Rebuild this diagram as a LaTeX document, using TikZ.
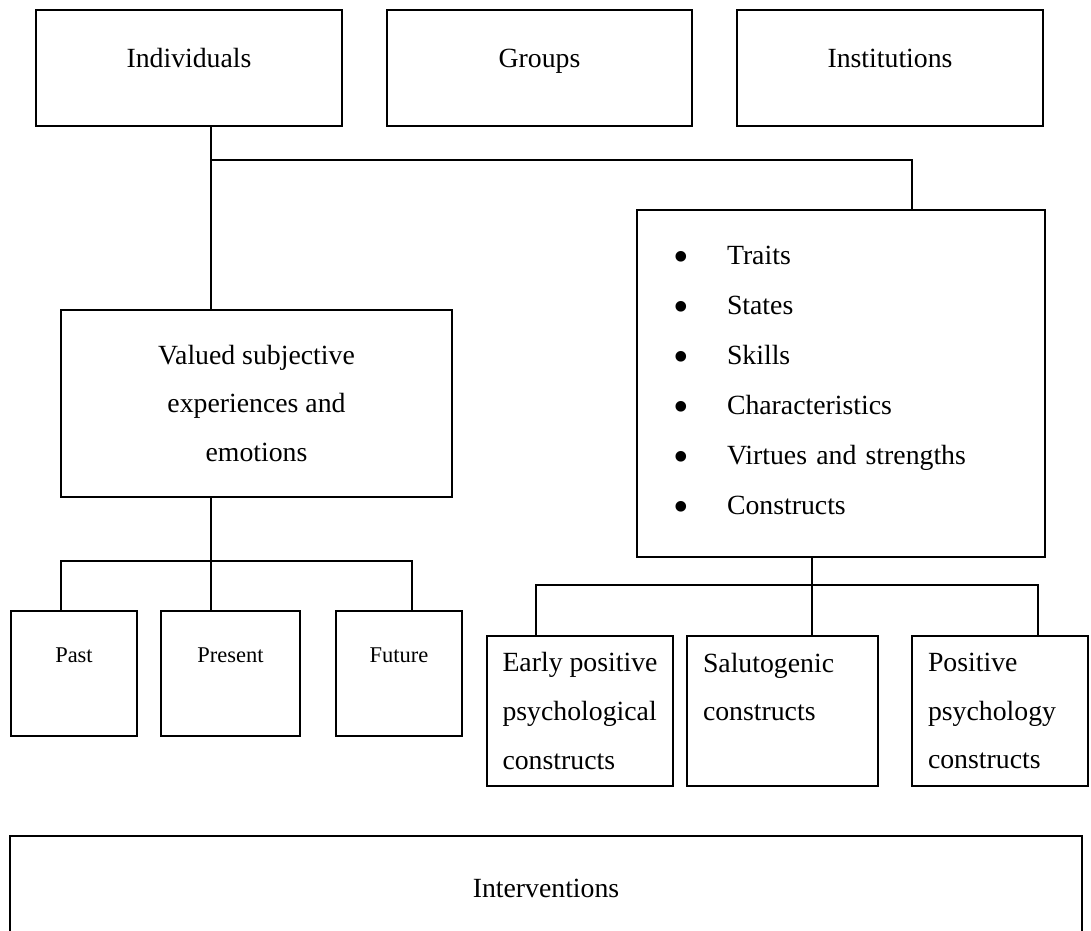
\documentclass[tikz,border=0pt]{standalone}
\usepackage{fontspec}
\setmainfont{Liberation Serif}
\newcommand{\itembul}{\makebox[1.08cm][l]{\raisebox{-0.25em}{\scalebox{1.6}{\textbullet}}}}
\begin{document}
\begin{tikzpicture}[x=0.2mm, y=-0.2mm,
        box/.style={draw, line width=1.1pt, inner sep=0pt, align=center,
            font=\fontsize{15.8pt}{27.6pt}\selectfont},
        level/.style={box, minimum width=6.12cm, minimum height=2.32cm,
            text height=10pt, text depth=10pt},
        timebox/.style={box, minimum height=2.5cm, text height=6pt, text depth=18pt,
            font=\fontsize{12.8pt}{15pt}\selectfont},
        conbox/.style={box, minimum height=3cm, align=left},
        link/.style={line width=1.1pt}]
        \useasboundingbox (0,0) rectangle (1091,931);

        % top level: who
        \node[level] (ind) at (189,68) {Individuals};
        \node[level, minimum width=6.1cm] (grp) at (539.5,68) {Groups};
        \node[level] (inst) at (890,68) {Institutions};

        % second level
        \node[box, minimum width=7.82cm, minimum height=3.74cm] (val) at (256.5,403.5)
            {Valued subjective\\experiences and\\emotions};
        \node[box, minimum width=8.16cm, minimum height=6.94cm, text width=6.72cm, align=left,
            font=\fontsize{15.8pt}{28.45pt}\selectfont] (feat) at (841,383.5)
            {\itembul Traits\\ \itembul States\\ \itembul Skills\\ \itembul Characteristics\\
             \itembul Virtues and strengths\\ \itembul Constructs};

        % time frames
        \node[timebox, minimum width=2.52cm] (past) at (74,673.5) {Past};
        \node[timebox, minimum width=2.78cm] (pres) at (230.5,673.5) {Present};
        \node[timebox, minimum width=2.52cm] (fut) at (399,673.5) {Future};

        % kinds of constructs
        \node[conbox, minimum width=3.72cm] (early) at (580,711)
            {Early positive\\psychological\\constructs};
        \node[conbox, minimum width=3.82cm, text width=3.18cm] (salu) at (782.5,711)
            {Salutogenic\\constructs\\\mbox{}};
        \node[conbox, minimum width=3.52cm, text width=2.88cm] (posi) at (1000,711)
            {Positive\\psychology\\constructs};

        % bottom bar
        \node[box, minimum width=21.44cm, minimum height=2.08cm] (interv) at (546,888) {Interventions};

        % connectors
        \coordinate (jA) at (211,160);
        \coordinate (jB) at (912,160);
        \draw[link] (ind.south -| jA) -- (val.north -| jA);
        \draw[link] (jA) -- (jB) -- (jB |- feat.north);

        \coordinate (jC) at (211,561);
        \coordinate (jL) at (61,561);
        \coordinate (jR) at (412,561);
        \draw[link] (val.south -| jC) -- (pres.north -| jC);
        \draw[link] (past.north -| jL) -- (jL) -- (jR) -- (fut.north -| jR);

        \coordinate (jD) at (812,585);
        \coordinate (jE) at (536,585);
        \coordinate (jF) at (1038,585);
        \draw[link] (feat.south -| jD) -- (salu.north -| jD);
        \draw[link] (early.north -| jE) -- (jE) -- (jF) -- (posi.north -| jF);
    \end{tikzpicture}
\end{document}
